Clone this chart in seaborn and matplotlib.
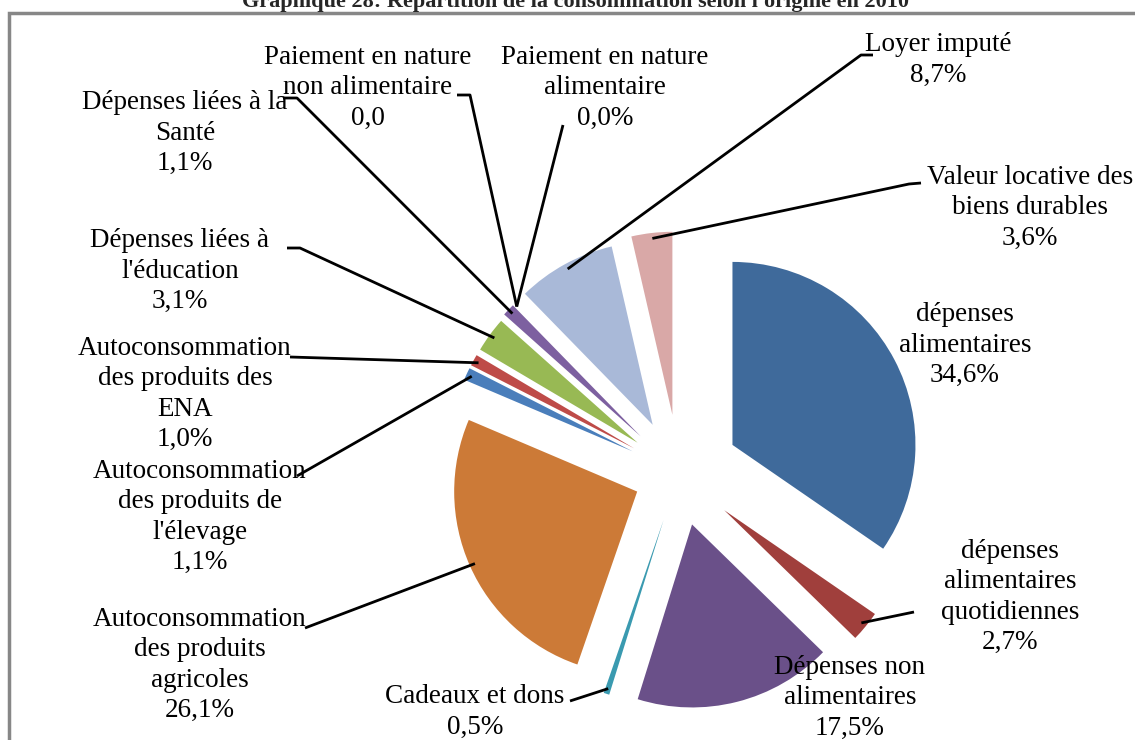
import numpy as np
import matplotlib
import matplotlib.pyplot as plt
import matplotlib.patches as mpatches
import seaborn as sns

matplotlib.use("Agg")

# ── Data ──────────────────────────────────────────────────────────────────────
categories = [
    "dépenses\nalimentaires",
    "dépenses\nalimentaires\nquotidiennes",
    "Dépenses non\nalimentaires",
    "Cadeaux et dons",
    "Autoconsommation\ndes produits\nagricoles",
    "Autoconsommation\ndes produits de\nl'élevage",
    "Autoconsommation\ndes produits des\nENA",
    "Dépenses liées à\nl'éducation",
    "Dépenses liées à la\nSanté",
    "Paiement en nature\nnon alimentaire",
    "Paiement en nature\nalimentaire",
    "Loyer imputé",
    "Valeur locative des\nbiens durables",
]
shares = [34.6, 2.7, 17.5, 0.5, 26.1, 1.1, 1.0, 3.1, 1.1, 0.0, 0.0, 8.7, 3.6]
share_labels = ["34,6%", "2,7%", "17,5%", "0,5%", "26,1%", "1,1%", "1,0%",
                "3,1%", "1,1%", "0,0", "0,0%", "8,7%", "3,6%"]
colors = ["#3F6A9B", "#A03F3C", "#6A5089", "#3A9AB0", "#CC7A37", "#4A7EBB",
          "#BE4B48", "#98B954", "#7D60A0", "#4BACC6", "#F79646", "#A9B9D8",
          "#D9A8A7"]
explode = [0.33, 0.32, 0.29, 0.27, 0.25, 0.28, 0.28, 0.28, 0.29, 0.30, 0.30,
           0.30, 0.32]

TITLE = "Graphique 28: Répartition de la consommation selon l'origine en 2010"

# ── Layout (pixels in a 1135 x 740 canvas) ────────────────────────────────────
W, H = 1135, 740
CX, CY, R = 679, 473, 183

label_pos = [(965, 345), (1010, 597), (850, 698), (475, 712), (200, 665),
             (200, 517), (185, 394), (180, 271), (185, 133), (368, 88),
             (605, 88), (938, 60), (1030, 208)]
# leader line points on the label side (start, optional elbow)
leaders = [None, [(914, 612)], None, [(570, 701)], [(305, 628)],
           [(297, 476)], [(290, 357)], [(287, 248), (300, 248)],
           [(283, 98), (297, 98)], [(457, 95), (470, 95)], [(563, 125)],
           [(873, 55), (861, 55)], [(921, 183), (909, 184)]]


def to_data(p):
    return ((p[0] - CX) / R, (CY - p[1]) / R)


sns.set_theme(style="white")
plt.rcParams["font.family"] = ["Liberation Serif", "DejaVu Serif"]

fig = plt.figure(figsize=(W / 100, H / 100), dpi=100)
ax = fig.add_axes([0, 0, 1, 1])

wedges, _ = ax.pie(
    shares,
    colors=colors,
    explode=explode,
    startangle=90,
    counterclock=False,
    radius=1,
    wedgeprops={"linewidth": 0},
)

ax.set_xlim(-CX / R, (W - CX) / R)
ax.set_ylim((CY - H) / R, CY / R)
ax.set_aspect("auto")
ax.axis("off")

# ── Labels & leader lines ─────────────────────────────────────────────────────
for w, cat, pct, pos, lead in zip(wedges, categories, share_labels,
                                  label_pos, leaders):
    x, y = to_data(pos)
    ax.text(x, y, f"{cat}\n{pct}", ha="center", va="center",
            fontsize=19.5, linespacing=1.28, color="black", zorder=5)
    if lead is None:
        continue
    mid = np.deg2rad((w.theta1 + w.theta2) / 2)
    cx, cy = w.center
    end = (cx + 0.97 * w.r * np.cos(mid), cy + 0.97 * w.r * np.sin(mid))
    pts = [to_data(p) for p in lead] + [end]
    ax.plot([p[0] for p in pts], [p[1] for p in pts], color="black",
            lw=2, zorder=4, solid_capstyle="butt")

# ── Frame & title ─────────────────────────────────────────────────────────────
fig.add_artist(mpatches.Rectangle(
    (9 / W, -0.1), 1.2, (H - 13) / H + 0.1, transform=fig.transFigure,
    fill=False, edgecolor="#878787", linewidth=2.5))
fig.text(575 / W, 1 - 7 / H, TITLE, ha="center", va="baseline",
         fontsize=16, fontweight="bold")

fig.savefig("out.png", dpi=100)
